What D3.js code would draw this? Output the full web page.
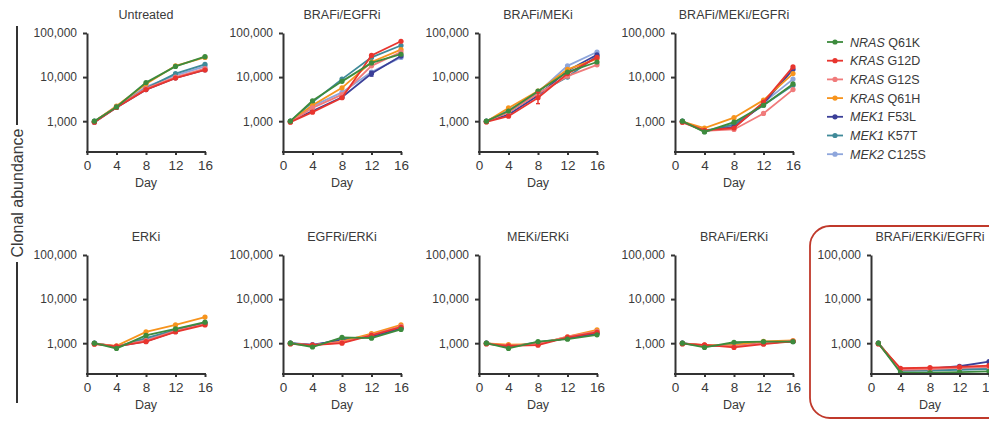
<!DOCTYPE html>
<html>
<head>
<meta charset="utf-8">
<script src="https://cdn.jsdelivr.net/npm/d3@7"></script>
<style>
  body { margin: 0; background: #fff; }
  svg { display: block; font-family: "Liberation Sans", Arial, sans-serif; }
  .axis path, .axis line { stroke: #333; stroke-width: 2; }
  .axis text { fill: #3a3a3a; font-family: "Liberation Sans", Arial, sans-serif; }
</style>
</head>
<body>
<svg width="989" height="421"></svg>
<script>
// data
const days = [1, 4, 8, 12, 16];
const xTicks = [0, 4, 8, 12, 16];
const yTicks = [1000, 10000, 100000];
const genes = ['NRAS', 'KRAS', 'KRAS', 'KRAS', 'MEK1', 'MEK1', 'MEK2'];
const mutations = ['Q61K', 'G12D', 'G12S', 'Q61H', 'F53L', 'K57T', 'C125S'];
const colors = ['#3d8b3d', '#e8352e', '#f07b7b', '#f7941d', '#3b3f98', '#3f8a99', '#8ea6dc'];
const titles = ['Untreated', 'BRAFi/EGFRi', 'BRAFi/MEKi', 'BRAFi/MEKi/EGFRi',
  'ERKi', 'EGFRi/ERKi', 'MEKi/ERKi', 'BRAFi/ERKi', 'BRAFi/ERKi/EGFRi'];

// one row per series, in legend order
const untreated = [
  [1000, 2100, 7500, 17500, 29000],
  [950, 2050, 5200, 9500, 14500],
  [960, 2100, 5500, 10000, 15500],
  [980, 2200, 7000, 18000, 28000],
  [950, 2050, 5200, 9600, 14600],
  [1000, 2100, 5600, 12000, 19500],
  [990, 2150, 6000, 11000, 17500]
];
const brafEgfr = [
  [1000, 2900, 8000, 21000, 33000],
  [950, 1600, 3400, 31000, 65000],
  [960, 2000, 4000, 18000, 37000],
  [980, 2300, 5700, 22000, 42000],
  [990, 1700, 3500, 12000, 30000],
  [1000, 2700, 9000, 28000, 52000],
  [990, 2200, 4500, 13000, 28000]
];
const brafMek = [
  [1000, 1700, 4800, 13000, 22000],
  [960, 1300, 3400, 12000, 28000],
  [970, 1600, 4200, 10500, 19000],
  [980, 2000, 4800, 15000, 26000],
  [990, 1400, 3800, 14000, 32000],
  [1000, 1600, 4300, 10000, 30000],
  [990, 1800, 4500, 18000, 37000]
];
const brafMekEgfr = [
  [1000, 570, 950, 2300, 7000],
  [950, 620, 700, 2700, 17000],
  [940, 600, 650, 1500, 5200],
  [980, 700, 1200, 3000, 12000],
  [990, 600, 730, 2500, 15000],
  [1000, 580, 850, 2300, 6500],
  [990, 620, 800, 2600, 9000]
];
const erk = [
  [1000, 760, 1500, 2100, 3000],
  [950, 850, 1080, 1800, 2600],
  [960, 860, 1150, 1900, 2700],
  [980, 870, 1800, 2600, 3900],
  [990, 850, 1100, 1850, 2800],
  [1000, 820, 1300, 2000, 2900],
  [990, 840, 1200, 1950, 2800]
];
const egfrErk = [
  [1000, 820, 1350, 1300, 2050],
  [960, 900, 1000, 1500, 2300],
  [970, 910, 1050, 1550, 2400],
  [990, 880, 1100, 1650, 2600],
  [1000, 930, 1150, 1450, 2200],
  [1000, 880, 1250, 1400, 2150],
  [990, 900, 1100, 1500, 2300]
];
const mekErk = [
  [1000, 760, 1080, 1230, 1550],
  [960, 870, 900, 1350, 1750],
  [970, 880, 950, 1400, 1850],
  [990, 930, 950, 1400, 2000],
  [1000, 850, 1000, 1300, 1700],
  [1000, 820, 1050, 1280, 1650],
  [990, 860, 980, 1350, 1800]
];
const brafErk = [
  [1000, 800, 1050, 1080, 1080],
  [960, 920, 800, 950, 1100],
  [970, 900, 850, 1000, 1120],
  [990, 900, 900, 1100, 1150],
  [1000, 880, 870, 1000, 1100],
  [1000, 850, 950, 1050, 1090],
  [990, 880, 900, 1020, 1100]
];
const brafErkEgfr = [
  [1000, 215, 215, 220, 230],
  [960, 270, 280, 290, 310],
  [970, 250, 260, 275, 290],
  [990, 260, 270, 280, 300],
  [1000, 250, 265, 300, 380],
  [1000, 235, 240, 250, 260],
  [990, 245, 255, 265, 280]
];
const panelData = [untreated, brafEgfr, brafMek, brafMekEgfr, erk, egfrErk, mekErk, brafErk, brafErkEgfr];

// error bars: [panel, series, day index, low, high]
const errBars = [
  [2, 1, 2, 2500, 4500],
  [1, 4, 3, 10500, 13500]
];

const svg = d3.select('svg');

// layout
const colX = [87, 283, 479, 675, 871];
const rowTop = [33, 255];
const plotW = 118;
const plotH = 119;
const cells = [[0, 0], [0, 1], [0, 2], [0, 3], [1, 0], [1, 1], [1, 2], [1, 3], [1, 4]];

// highlight box around the last panel
svg.append('rect')
  .attr('x', 810)
  .attr('y', 226)
  .attr('width', 210)
  .attr('height', 192)
  .attr('rx', 20)
  .attr('ry', 20)
  .style('fill', 'none')
  .style('stroke', '#c0392b')
  .style('stroke-width', 1.8);

const fmt = d3.format(',');

panelData.forEach((rows, p) => {
  const [r, c] = cells[p];
  const x0 = colX[c];
  const y0 = rowTop[r];

  const scaleX = d3.scaleLinear().domain([0, 16]).range([0, plotW]);
  const scaleY = d3.scaleLog().domain([200, 100000]).range([plotH, 0]);

  const g = svg.append('g').attr('transform', `translate(${x0},${y0})`);

  g.append('text')
    .text(titles[p])
    .attr('x', plotW / 2)
    .attr('y', -14)
    .style('text-anchor', 'middle')
    .style('font-size', '12.5px')
    .style('fill', '#3a3a3a');

  // lines, drawn back to front so green ends on top
  d3.range(rows.length).reverse().forEach(s => {
    const pts = rows[s].map((v, i) => [days[i], v]);
    const line = d3.line().x(d => scaleX(d[0])).y(d => scaleY(d[1]));
    g.append('path')
      .attr('d', line(pts))
      .style('fill', 'none')
      .style('stroke', colors[s])
      .style('stroke-width', 1.8);
    g.selectAll(null)
      .data(pts)
      .join('circle')
      .attr('cx', d => scaleX(d[0]))
      .attr('cy', d => scaleY(d[1]))
      .attr('r', 2.6)
      .style('fill', colors[s]);
  });

  errBars.filter(e => e[0] === p).forEach(e => {
    const ex = scaleX(days[e[2]]);
    const eg = g.append('g').style('stroke', colors[e[1]]).style('stroke-width', 1.4);
    eg.append('line').attr('x1', ex).attr('x2', ex).attr('y1', scaleY(e[3])).attr('y2', scaleY(e[4]));
    eg.append('line').attr('x1', ex - 2).attr('x2', ex + 2).attr('y1', scaleY(e[3])).attr('y2', scaleY(e[3]));
    eg.append('line').attr('x1', ex - 2).attr('x2', ex + 2).attr('y1', scaleY(e[4])).attr('y2', scaleY(e[4]));
  });

  // axes
  const yAxis = g.append('g')
    .attr('class', 'axis')
    .call(d3.axisLeft(scaleY).tickValues(yTicks).tickFormat(fmt).tickSize(4).tickSizeOuter(0).tickPadding(6));
  yAxis.selectAll('text').style('font-size', '12px');

  const xAxis = g.append('g')
    .attr('class', 'axis')
    .attr('transform', `translate(0,${plotH})`)
    .call(d3.axisBottom(scaleX).tickValues(xTicks).tickSize(3).tickSizeOuter(0).tickPadding(5));
  xAxis.selectAll('text').style('font-size', '13.5px');
  xAxis.select('.domain').attr('d', `M-1,0H${plotW + 1}`);

  g.append('text')
    .text('Day')
    .attr('x', plotW / 2)
    .attr('y', plotH + 35)
    .style('text-anchor', 'middle')
    .style('font-size', '12.5px')
    .style('fill', '#3a3a3a');
});

// y label with bar
svg.append('line')
  .attr('x1', 17).attr('x2', 17).attr('y1', 26).attr('y2', 125)
  .style('stroke', '#333').style('stroke-width', 2);
svg.append('line')
  .attr('x1', 17).attr('x2', 17).attr('y1', 262).attr('y2', 403)
  .style('stroke', '#333').style('stroke-width', 2);
svg.append('text')
  .text('Clonal abundance')
  .attr('transform', 'translate(23,193) rotate(-90)')
  .style('text-anchor', 'middle')
  .style('font-size', '16px')
  .style('fill', '#3a3a3a');

// legend
const legend = svg.append('g').attr('transform', 'translate(827,42)');
const rowsG = legend.selectAll('g')
  .data(genes)
  .join('g')
  .attr('transform', (d, i) => `translate(0,${i * 18.7})`);
rowsG.append('line')
  .attr('x1', 0).attr('x2', 16).attr('y1', 0).attr('y2', 0)
  .style('stroke', (d, i) => colors[i])
  .style('stroke-width', 1.8);
rowsG.append('circle')
  .attr('cx', 8).attr('cy', 0).attr('r', 2.6)
  .style('fill', (d, i) => colors[i]);
const lt = rowsG.append('text')
  .attr('x', 23)
  .attr('y', 4.5)
  .style('font-size', '12.5px')
  .style('fill', '#3a3a3a');
lt.append('tspan').text(d => d).style('font-style', 'italic');
lt.append('tspan').text((d, i) => ' ' + mutations[i]);
</script>
</body>
</html>
